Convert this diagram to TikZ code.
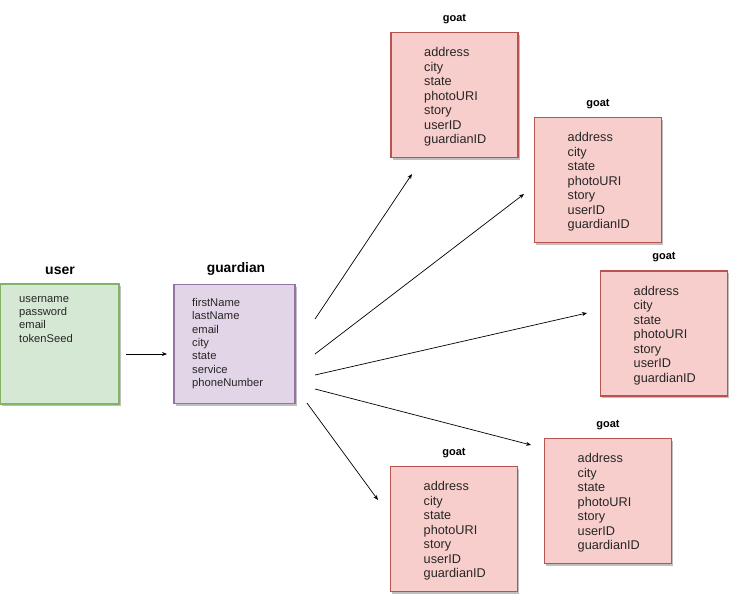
\documentclass[tikz,border=0pt]{standalone}
\usepackage{fontspec}
\setmainfont{Liberation Sans}
\usetikzlibrary{arrows.meta,shadows}
\definecolor{userfill}{HTML}{D5E8D4}
\definecolor{userline}{HTML}{82B366}
\definecolor{guardfill}{HTML}{E1D5E7}
\definecolor{guardline}{HTML}{9673A6}
\definecolor{goatfill}{HTML}{F8CECC}
\definecolor{goatline}{HTML}{B85450}
\begin{document}
\begin{tikzpicture}[x=1pt,y=-1pt,>={Stealth[length=5pt,width=4pt]},
	box/.style={line width=1.2pt,inner sep=0pt,minimum width=127pt,minimum height=125pt,
		drop shadow={shadow xshift=1.5pt,shadow yshift=-2pt,opacity=0.25,fill=black}},
	title/.style={font=\bfseries\fontsize{11}{13}\selectfont},
	fields/.style={anchor=north west,align=left,inner sep=0pt,text=black!85,font=\fontsize{12.7}{14.5}\selectfont},
	link/.style={->,line width=0.7pt}]
	\useasboundingbox (0,0) rectangle (735,600);
	% user and guardian
	\node[box,fill=userfill,draw=userline,minimum width=119pt,minimum height=120pt] (user) at (59.5,344) {};
	\node[title,font=\bfseries\fontsize{14}{16}\selectfont] (usertitle) at (60,271) {user};
	\node[fields,font=\fontsize{11.2}{13.3}\selectfont] (userfields) at (19,296) {username\\password\\email\\tokenSeed};
	\node[box,fill=guardfill,draw=guardline,minimum width=121pt,minimum height=119pt] (guardian) at (234.5,344) {};
	\node[title,font=\bfseries\fontsize{13.8}{16}\selectfont] (guardiantitle) at (236,269) {guardian};
	\node[fields,font=\fontsize{11.2}{13.4}\selectfont] (guardianfields) at (192,298) {firstName\\lastName\\email\\city\\state\\service\\phoneNumber};
	% goats
	\foreach \cx/\cy [count=\i] in {454.5/95,598/180,664/333.5,608/501,454/529}{
		\node[box,fill=goatfill,draw=goatline] (goat\i) at (\cx,\cy) {};
		\node[title] (goattitle\i) at (\cx,\cy-76) {goat};
		\node[fields] (goatfields\i) at (\cx-30.5,\cy-47.5) {address\\city\\state\\photoURI\\story\\userID\\guardianID};
	}
	% connectors
	\coordinate (userout) at (126,354);
	\coordinate (guardianin) at (167,354);
	\draw[link] (userout) -- (guardianin);
	\foreach \sx/\sy/\ex/\ey [count=\i] in {315/319/412/174,315/354/524/194,315/375/587/313,315/389/531/445,307/403/378/500}{
		\coordinate (out\i) at (\sx,\sy);
		\coordinate (in\i) at (\ex,\ey);
		\draw[link] (out\i) -- (in\i);
	}
\end{tikzpicture}
\end{document}
